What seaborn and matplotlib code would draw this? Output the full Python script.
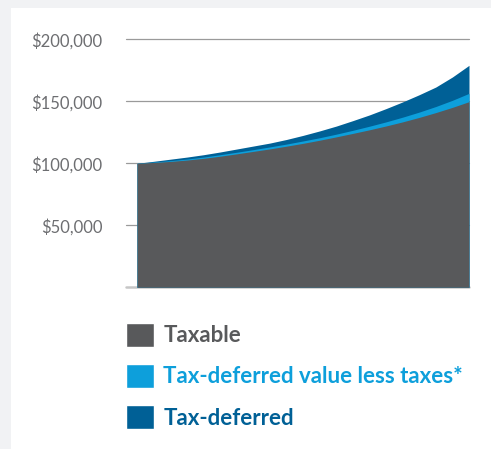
import seaborn as sns
import matplotlib.pyplot as plt
from matplotlib.patches import Patch, Rectangle

years = [0, 0.5, 1, 1.5, 2, 2.5, 3, 3.5, 4, 4.5, 5, 5.5, 6, 6.5, 7, 7.5, 8, 8.5, 9, 9.5, 10]
taxable = [100000, 100700, 101500, 102600, 104000, 105700, 107600, 109600, 111600, 113800, 116100,
           118600, 121300, 124100, 127000, 130100, 133400, 137000, 140900, 145100, 149700]
less_taxes = [100000, 101000, 102100, 103400, 105000, 106900, 108900, 111000, 113200, 115500, 118000,
              120600, 123500, 126600, 129900, 133400, 137200, 141300, 145800, 150800, 156400]
deferred = [100000, 101600, 103300, 105000, 106900, 109100, 111500, 113900, 116300, 119200, 122500,
            126100, 130000, 134400, 139000, 144100, 149500, 155300, 161500, 169600, 179000]

y_ticks = [50000, 100000, 150000, 200000]
y_labels = ['$50,000', '$100,000', '$150,000', '$200,000']
legend_labels = ['Taxable', 'Tax-deferred value less taxes*', 'Tax-deferred']

gray = '#58595b'
light_blue = '#0d9fdb'
dark_blue = '#006096'

sns.set_theme(style='white')

fig = plt.figure(figsize=(4.91, 4.49), dpi=100, facecolor='#f1f2f4')
fig.patches.append(Rectangle((11 / 491, 0), 1, 1 - 8 / 449, transform=fig.transFigure,
                             facecolor='white', edgecolor='none', zorder=-10))

ax = fig.add_axes([126 / 491, 1 - 287.3 / 449, 343 / 491, (287.3 - 39.3) / 449])
ax.set_zorder(1)
ax.set_facecolor('none')

ax.fill_between(years, 0, deferred, color=dark_blue, lw=0, zorder=2)
ax.fill_between(years, 0, less_taxes, color=light_blue, lw=0, zorder=3)
ax.fill_between(years, 0, taxable, color=gray, lw=0, zorder=4)

ax.set_xlim(-0.331, 10)
ax.set_ylim(0, 200000)
ax.set_yticks(y_ticks)
ax.set_yticklabels(y_labels)
ax.set_xticks([])

for t in y_ticks:
    ax.axhline(t, color='#9a9a9a', lw=0.9, zorder=1, clip_on=False)
ax.axhline(0, color='#c6c6c6', lw=1.8, zorder=1, clip_on=False)

for s in ax.spines.values():
    s.set_visible(False)

ax.tick_params(axis='y', length=0, pad=17)
for lab in ax.get_yticklabels():
    lab.set_family(['Lato', 'DejaVu Sans'])
    lab.set_weight('normal')
    lab.set_fontsize(12)
    lab.set_color('#6d6e71')

handles = [Patch(facecolor=gray), Patch(facecolor=light_blue), Patch(facecolor=dark_blue)]
leg = ax.legend(handles, legend_labels, loc='upper left',
                bbox_to_anchor=(126 / 491, 1 - 323 / 449), bbox_transform=fig.transFigure,
                frameon=False, borderpad=0, borderaxespad=0,
                handlelength=1.26, handleheight=1.26, handletextpad=0.42,
                labelspacing=0.79, prop={'family': 'Lato', 'weight': 'bold', 'size': 16},
                labelcolor=[gray, light_blue, dark_blue])

fig.savefig('out.png', dpi=100, facecolor=fig.get_facecolor())
